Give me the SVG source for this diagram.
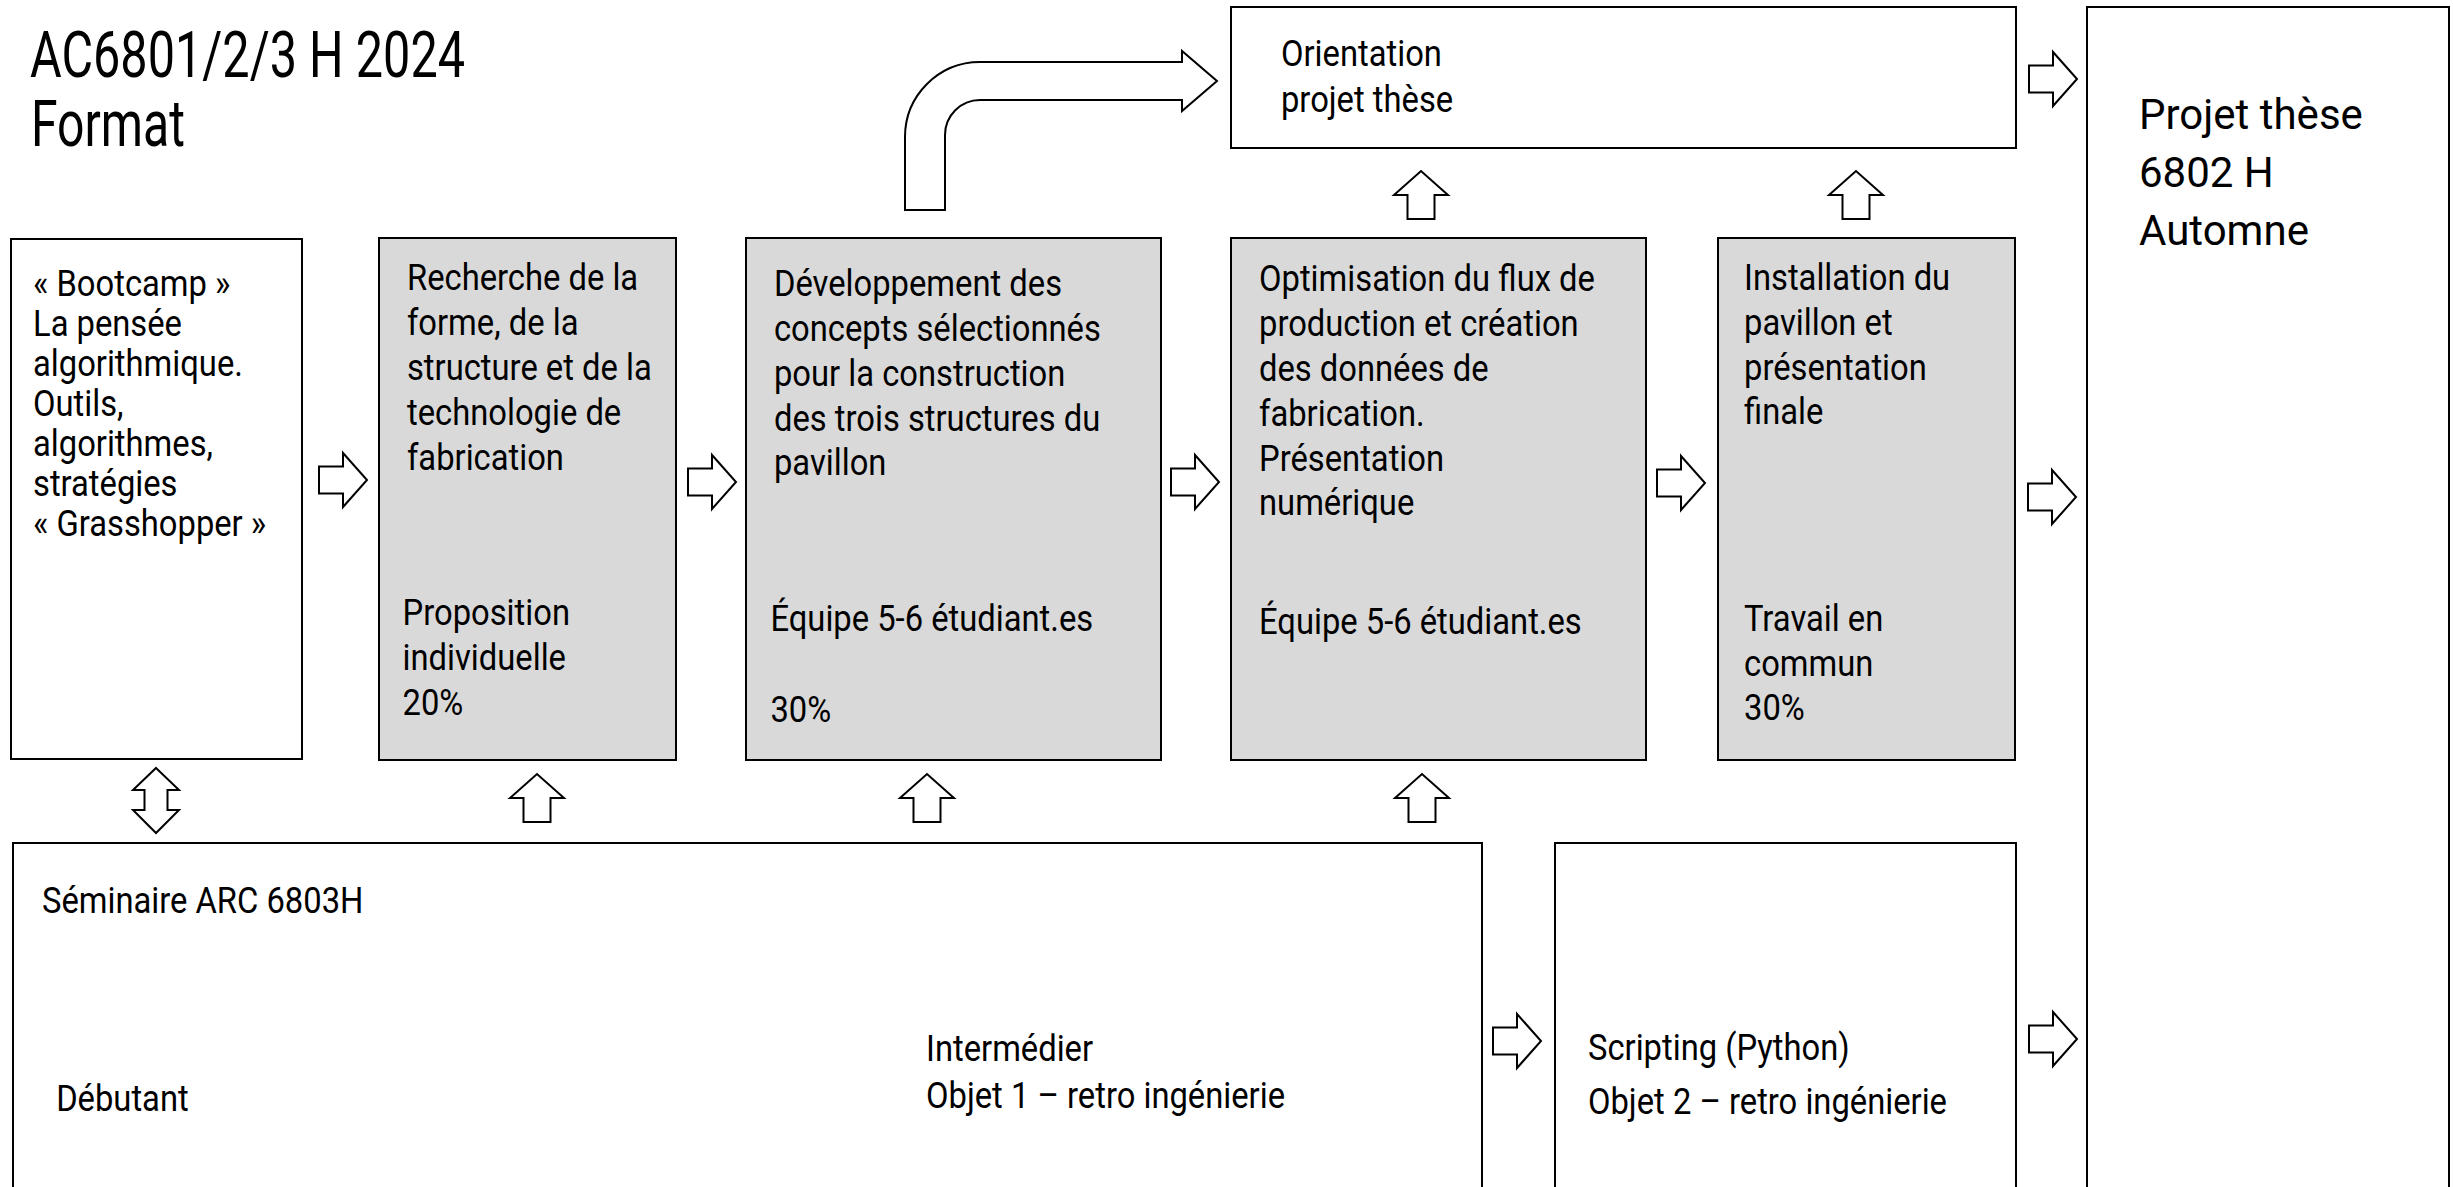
<svg xmlns="http://www.w3.org/2000/svg" width="2453" height="1187" viewBox="0 0 2453 1187">
<style>
.box{fill:#ffffff;stroke:#000;stroke-width:2}
.gbox{fill:#d9d9d9;stroke:#000;stroke-width:2}
.t{font-family:Roboto,"Liberation Sans",sans-serif;font-size:37px;fill:#000}
.big{font-family:Roboto,"Liberation Sans",sans-serif;font-size:42px;fill:#000}
.title{font-family:Roboto,"Liberation Sans",sans-serif;font-size:64px;fill:#000}
.arr{fill:#fff;stroke:#000;stroke-width:2;stroke-linejoin:miter}
</style>
<defs>
<path id="ar" d="M0,-13.5 H24 V-27 L48,0 L24,27 V13.5 H0 Z"/>
<path id="au" d="M-13.5,48 V24 H-27 L0,0 L27,24 H13.5 V48 Z"/>
</defs>
<rect width="2453" height="1187" fill="#fff"/>

<g id="title">
<text class="title" x="30" y="77" textLength="435" lengthAdjust="spacingAndGlyphs">AC6801/2/3 H 2024</text>
<text class="title" x="31" y="146" textLength="154" lengthAdjust="spacingAndGlyphs">Format</text>
</g>

<g id="bootcamp">
<rect class="box" x="11" y="239" width="291" height="520"/>
<g transform="matrix(0.885 0 0 1 3.8 0)">
<text class="t" x="33" y="296">« Bootcamp »</text>
<text class="t" x="33" y="336">La pensée</text>
<text class="t" x="33" y="376">algorithmique.</text>
<text class="t" x="33" y="416">Outils,</text>
<text class="t" x="33" y="456">algorithmes,</text>
<text class="t" x="33" y="496">stratégies</text>
<text class="t" x="33" y="536">« Grasshopper »</text>
</g>
</g>

<g id="recherche">
<rect class="gbox" x="379" y="238" width="297" height="522"/>
<g transform="matrix(0.885 0 0 1 46.8 0)">
<text class="t" x="407" y="290">Recherche de la</text>
<text class="t" x="407" y="335">forme, de la</text>
<text class="t" x="407" y="380">structure et de la</text>
<text class="t" x="407" y="425">technologie de</text>
<text class="t" x="407" y="470">fabrication</text>
<text class="t" x="402" y="625">Proposition</text>
<text class="t" x="402" y="670">individuelle</text>
<text class="t" x="402" y="715">20%</text>
</g>
</g>

<g id="developpement">
<rect class="gbox" x="746" y="238" width="415" height="522"/>
<g transform="matrix(0.885 0 0 1 89 0)">
<text class="t" x="774" y="296">Développement des</text>
<text class="t" x="774" y="341">concepts sélectionnés</text>
<text class="t" x="774" y="386">pour la construction</text>
<text class="t" x="774" y="431">des trois structures du</text>
<text class="t" x="774" y="475">pavillon</text>
<text class="t" x="770" y="631">Équipe 5-6 étudiant.es</text>
<text class="t" x="770" y="722">30%</text>
</g>
</g>

<g id="optimisation">
<rect class="gbox" x="1231" y="238" width="415" height="522"/>
<g transform="matrix(0.885 0 0 1 144.8 0)">
<text class="t" x="1259" y="291">Optimisation du flux de</text>
<text class="t" x="1259" y="336">production et création</text>
<text class="t" x="1259" y="381">des données de</text>
<text class="t" x="1259" y="426">fabrication.</text>
<text class="t" x="1259" y="471">Présentation</text>
<text class="t" x="1259" y="515">numérique</text>
<text class="t" x="1259" y="634">Équipe 5-6 étudiant.es</text>
</g>
</g>

<g id="installation">
<rect class="gbox" x="1718" y="238" width="297" height="522"/>
<g transform="matrix(0.885 0 0 1 200.6 0)">
<text class="t" x="1744" y="290">Installation du</text>
<text class="t" x="1744" y="335">pavillon et</text>
<text class="t" x="1744" y="380">présentation</text>
<text class="t" x="1744" y="424">finale</text>
<text class="t" x="1744" y="631">Travail en</text>
<text class="t" x="1744" y="676">commun</text>
<text class="t" x="1744" y="720">30%</text>
</g>
</g>

<g id="orientation">
<rect class="box" x="1231" y="7" width="785" height="141"/>
<g transform="matrix(0.885 0 0 1 147.3 0)">
<text class="t" x="1281" y="66">Orientation</text>
<text class="t" x="1281" y="112">projet thèse</text>
</g>
</g>

<g id="projet-these">
<rect class="box" x="2087" y="7" width="362" height="1200"/>
<text class="big" x="2139" y="129">Projet thèse</text>
<text class="big" x="2139" y="187">6802 H</text>
<text class="big" x="2139" y="245">Automne</text>
</g>

<g id="seminaire">
<rect class="box" x="13" y="843" width="1469" height="400"/>
<g transform="matrix(0.885 0 0 1 4.8 0)">
<text class="t" x="42" y="913">Séminaire ARC 6803H</text>
<text class="t" x="58" y="1111">Débutant</text>
</g>
<g transform="matrix(0.885 0 0 1 106.5 0)">
<text class="t" x="926" y="1061">Intermédier</text>
<text class="t" x="926" y="1108">Objet 1 – retro ingénierie</text>
</g>
</g>

<g id="scripting">
<rect class="box" x="1555" y="843" width="461" height="400"/>
<g transform="matrix(0.885 0 0 1 182.6 0)">
<text class="t" x="1588" y="1060">Scripting (Python)</text>
<text class="t" x="1588" y="1114">Objet 2 – retro ingénierie</text>
</g>
</g>

<g id="connectors">
<path class="arr" d="M905,210 V137 A75,75 0 0 1 980,62 H1182 V51 L1217,81 L1182,111 V100 H980 A35,35 0 0 0 945,135 V210 Z"/>
<use href="#ar" class="arr" x="319" y="480"/>
<use href="#ar" class="arr" x="688" y="482"/>
<use href="#ar" class="arr" x="1171" y="482"/>
<use href="#ar" class="arr" x="1657" y="483"/>
<use href="#ar" class="arr" x="2028" y="497"/>
<use href="#ar" class="arr" x="2029" y="79"/>
<use href="#ar" class="arr" x="1493" y="1041"/>
<use href="#ar" class="arr" x="2029" y="1039"/>
<use href="#au" class="arr" x="1421" y="171"/>
<use href="#au" class="arr" x="1856" y="171"/>
<use href="#au" class="arr" x="537" y="774"/>
<use href="#au" class="arr" x="927" y="774"/>
<use href="#au" class="arr" x="1422" y="774"/>
<path class="arr" d="M156,768 L179,790 H167.5 V810 H179 L156,833 L133,810 H144.5 V790 H133 Z"/>
</g>
</svg>
